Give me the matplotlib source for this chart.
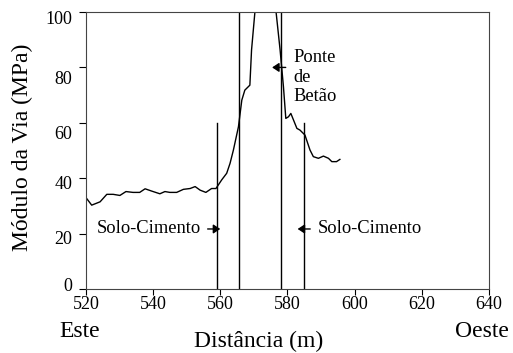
import matplotlib
matplotlib.use("Agg")
import matplotlib.pyplot as plt
from matplotlib.transforms import ScaledTranslation

plt.rcParams['font.family'] = ['Liberation Serif', 'DejaVu Serif']

# modulo da via ao longo da distancia
dist = [520.2, 521.7, 524.2, 526.2, 528.1, 530.1, 531.9, 534.0, 536.0, 537.6,
        539.5, 542.0, 543.5, 545.0, 547.0, 549.0, 551.0, 552.5, 554.0, 555.7,
        557.4, 558.7, 560.4, 561.9, 562.9, 563.9, 565.4, 566.4, 567.3, 568.8,
        569.3, 570.3, 572.0, 574.0, 576.0, 576.6, 577.8, 578.8, 579.5, 580.3,
        581.0, 581.8, 582.8, 583.7, 585.2, 586.7, 587.7, 589.2, 590.7, 592.2,
        593.2, 594.6, 595.6]
modulo = [32.7, 30.3, 31.5, 34.2, 34.2, 33.8, 35.2, 34.9, 34.9, 36.2,
          35.4, 34.4, 35.2, 34.9, 34.9, 36.0, 36.3, 37.0, 35.7, 34.9,
          36.3, 36.3, 39.4, 41.8, 45.4, 50.2, 58.6, 68.2, 71.8, 73.6,
          86.3, 100.0, 115.0, 118.0, 108.0, 100.0, 86.3, 73.0, 61.6, 62.2,
          63.4, 61.0, 58.0, 57.4, 55.6, 50.2, 47.8, 47.2, 48.0, 47.2,
          46.0, 46.0, 46.8]

# limites das zonas (x, altura)
limites_x = [559, 565.6, 578, 585]
limites_topo = [60, 100, 100, 60]

y_ticks = [0, 20, 40, 60, 80, 100]
x_ticks = [520, 540, 560, 580, 600, 620, 640]

fig = plt.figure(figsize=(5.13, 3.53), dpi=100)
ax = fig.add_axes([0.1676, 0.181, 0.7856, 0.785])

ax.plot(dist, modulo, color='black', lw=1)
for xv, top in zip(limites_x, limites_topo):
    ax.plot([xv, xv], [0, top], color='black', lw=1)

ax.set_xlim(520, 640)
ax.set_ylim(0, 100)
ax.set_xticks(x_ticks)
ax.set_yticks(y_ticks)
ax.tick_params(direction='out', length=4, labelsize=13, pad=1)
ax.tick_params(axis='y', length=5, pad=5)
for s in ax.spines.values():
    s.set_color('#444444')

# no original os rotulos do eixo y estao ligeiramente desalinhados
desvio = [-5, 4, 4, 10, 10, 5]
for lab, d in zip(ax.get_yticklabels(), desvio):
    lab.set_transform(lab.get_transform() +
                      ScaledTranslation(0, -d / 100, fig.dpi_scale_trans))

seta = dict(arrowstyle='-|>,head_length=0.45,head_width=0.3', color='black',
            lw=1, mutation_scale=9)
ax.annotate('', xy=(560.8, 21.7), xytext=(555.4, 21.7), arrowprops=seta)
ax.text(523.2, 21.7, 'Solo-Cimento', fontsize=13.3, va='center', ha='left')
ax.annotate('', xy=(582.2, 21.7), xytext=(587.6, 21.7), arrowprops=seta)
ax.text(589.1, 21.7, 'Solo-Cimento', fontsize=13.3, va='center', ha='left')
ax.annotate('', xy=(574.6, 80), xytext=(580.3, 80), arrowprops=seta)
ax.text(581.7, 76.5, 'Ponte\nde\nBetão', fontsize=13.3, va='center', ha='left',
        linespacing=1.2)

ax.set_ylabel('Módulo da Via (MPa)', fontsize=17)
ax.yaxis.set_label_coords(-0.131, 0.513)
fig.text(0.156, 0.062, 'Este', fontsize=17, ha='center', va='center')
fig.text(0.94, 0.062, 'Oeste', fontsize=17, ha='center', va='center')
fig.text(0.505, 0.034, 'Distância (m)', fontsize=17, ha='center', va='center')

fig.savefig('out.png', dpi=100)
